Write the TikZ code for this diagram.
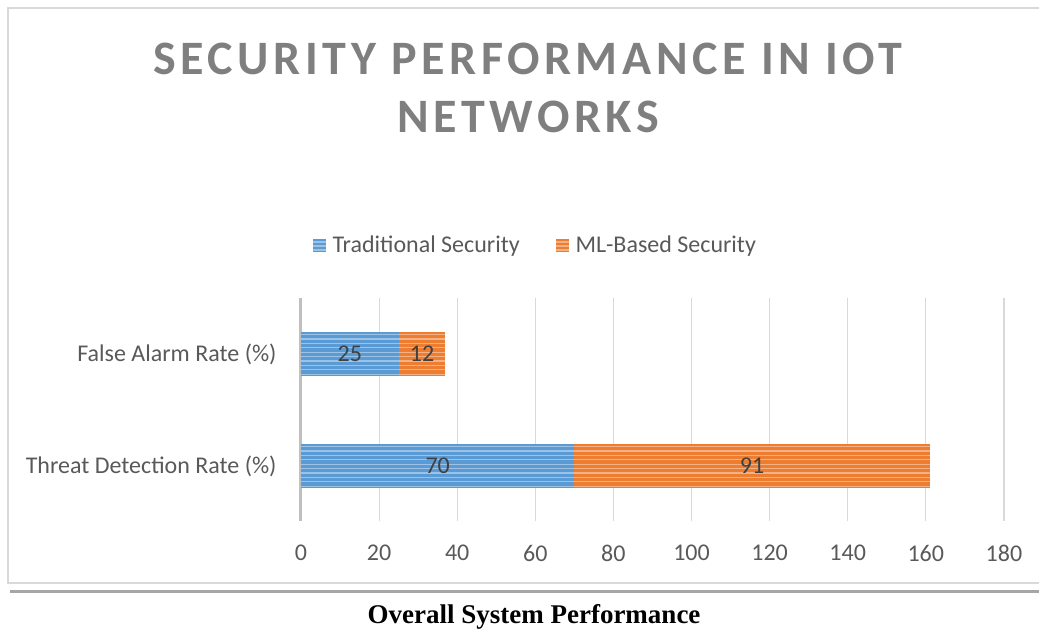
\documentclass[tikz,border=0pt]{standalone}
\usepackage{fontspec}
\setmainfont{Carlito}
\newfontfamily\capfont{Liberation Serif}
\definecolor{tradblue}{HTML}{5B9BD5}
\definecolor{mlorange}{HTML}{ED7D31}
\definecolor{gridgray}{HTML}{D9D9D9}
\definecolor{axisgray}{HTML}{BFBFBF}
\definecolor{textgray}{HTML}{595959}
\definecolor{titlegray}{HTML}{7F7F7F}
\definecolor{valgray}{HTML}{404040}
\definecolor{rulegray}{HTML}{A6A6A6}

\begin{document}
\begin{tikzpicture}[x=1pt, y=-1pt,
    ticklabel/.style={textgray, font=\fontsize{24}{28}\selectfont},
    catlabel/.style={textgray, font=\fontsize{24}{28}\selectfont, anchor=east},
    vallabel/.style={valgray, font=\fontsize{24}{28}\selectfont},
    titleline/.style={titlegray, font=\fontsize{48}{56}\selectfont\bfseries\addfontfeatures{LetterSpace=9.5}, anchor=base},
    stripe/.style={white, opacity=0.4, line width=1.2pt}]
    \useasboundingbox (0,0) rectangle (1039,632);

    % Chart frame
    \draw[gridgray, line width=1.5pt] (1045,8) -- (8,8) -- (8,583) -- (1045,583);

    % Title
    \node[titleline] (title1) at (528,74) {SECURITY PERFORMANCE IN IOT};
    \node[titleline] (title2) at (528,132) {NETWORKS};

    % Legend
    \fill[tradblue] (313,239) rectangle (326,252);
    \fill[mlorange] (556,239) rectangle (569,252);
    \foreach \s in {0,1,2} {
        \draw[stripe] (313,{242+4*\s}) -- (326,{242+4*\s});
        \draw[stripe] (556,{242+4*\s}) -- (569,{242+4*\s});
    }
    \node[ticklabel, anchor=west] (leg-trad) at (329,246) {Traditional Security};
    \node[ticklabel, anchor=west] (leg-ml) at (572,246) {ML-Based Security};

    % Grid and tick labels
    \foreach \v in {20,40,...,180}
        \draw[gridgray, line width=1.2pt] ({301+3.905*\v},298) -- ({301+3.905*\v},521);
    \foreach \v in {0,20,...,180}
        \node[ticklabel] (tick-\v) at ({301+3.905*\v},553) {\v};
    \draw[axisgray, line width=3pt] (300,298) -- (300,521);

    % Bars
    \foreach \cat/\yc/\trad/\ml in {fa/354/25/12, td/466/70/91} {
        \fill[tradblue] (301,\yc-22) rectangle ({301+3.905*\trad},\yc+22);
        \fill[mlorange] ({301+3.905*\trad},\yc-22) rectangle ({301+3.905*(\trad+\ml)},\yc+22);
        \foreach \s in {0,...,9}
            \draw[stripe] (301,{\yc-19.5+4.4*\s}) -- ({301+3.905*(\trad+\ml)},{\yc-19.5+4.4*\s});
        \node[vallabel] (val-\cat-trad) at ({301+3.905*\trad/2},\yc) {\trad};
        \node[vallabel] (val-\cat-ml) at ({301+3.905*(\trad+\ml/2)},\yc) {\ml};
    }

    % Category labels
    \node[catlabel] (cat-fa) at (280,354) {False Alarm Rate (\%)};
    \node[catlabel] (cat-td) at (280,466) {Threat Detection Rate (\%)};

    % Caption
    \draw[rulegray, line width=3pt] (10,591) -- (1045,591);
    \node[font=\capfont\bfseries\fontsize{27}{30}\selectfont] (caption) at (534,617) {Overall System Performance};

\end{tikzpicture}
\end{document}
